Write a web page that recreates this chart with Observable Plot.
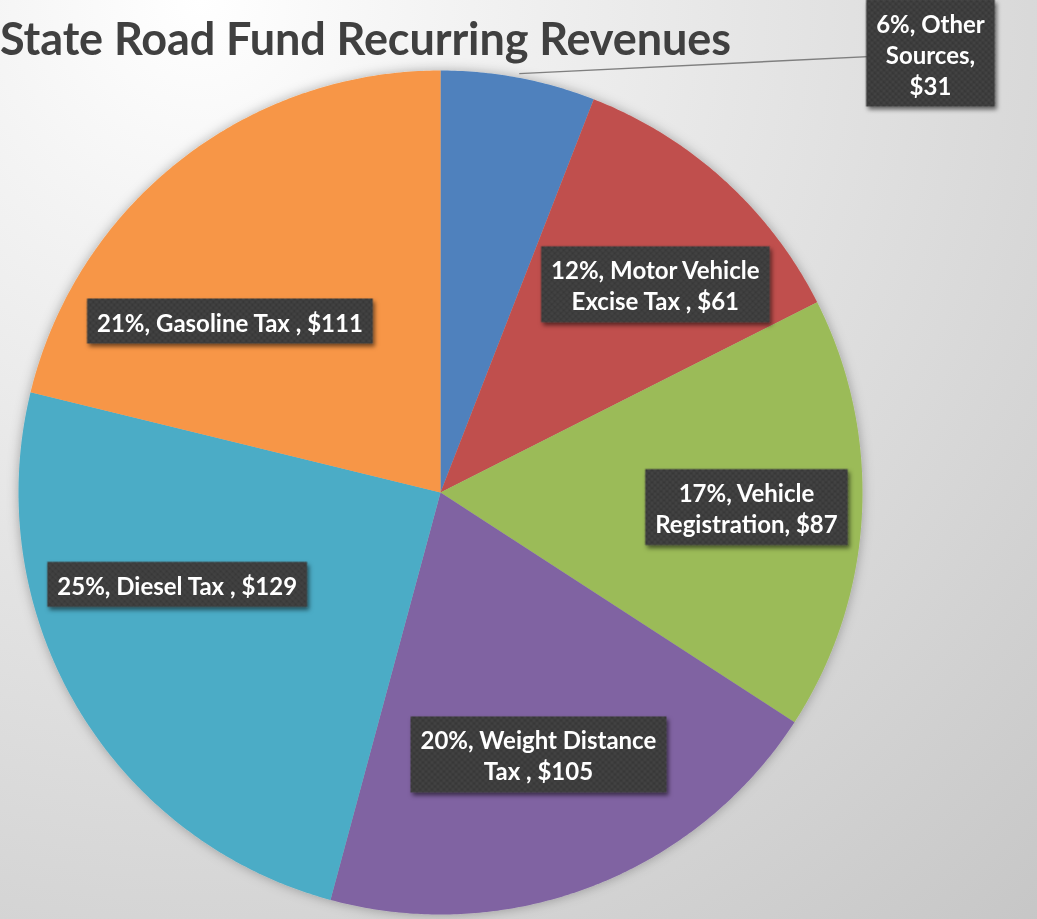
<!DOCTYPE html>
<html><head><meta charset="utf-8">
<script src="https://cdn.jsdelivr.net/npm/d3@7"></script>
<script src="https://cdn.jsdelivr.net/npm/@observablehq/plot@0.6"></script>
<style>
html,body{margin:0;padding:0;}
#wrap{position:relative;width:1037px;height:919px;overflow:hidden;background:radial-gradient(circle at 200px 0px,#ffffff 0px,#f3f3f3 250px,#c4c4c4 1300px);}
#title{position:absolute;left:0px;top:16px;font-family:Lato,sans-serif;font-weight:bold;font-size:45px;color:#404040;line-height:1;white-space:nowrap;letter-spacing:-0.1px;}
#chart{position:absolute;left:0;top:0;}
</style></head><body>
<div id="wrap"><div id="chart"></div><div id="title">State Road Fund Recurring Revenues</div></div>
<script>
// ---- data ----
const categories = ["Other Sources", "Motor Vehicle Excise Tax", "Vehicle Registration", "Weight Distance Tax", "Diesel Tax", "Gasoline Tax"];
const values = [31, 61, 87, 105, 129, 111];
const colors = ["#4F81BD", "#C0504D", "#9BBB59", "#8064A2", "#4BACC6", "#F79646"];
const labelNames = ["Other\nSources,\n", "Motor Vehicle\nExcise Tax , ", "Vehicle\nRegistration, ", "Weight Distance\nTax , ", "Diesel Tax , ", "Gasoline Tax , "];
// label anchor layout (pie coordinates, unit radius)
const labelAnchors = [[1.161, 1.040], [0.509, 0.492], [0.725, -0.036], [0.232, -0.622], [-0.624, -0.219], [-0.499, 0.405]];

const total = d3.sum(values);
const arcs = d3.pie().sort(null).value(d => d)(values);
const slicePts = [];
arcs.forEach((a, i) => {
  const n = Math.max(2, Math.ceil((a.endAngle - a.startAngle) / (Math.PI / 360)));
  slicePts.push({category: categories[i], x: 0, y: 0});
  for (let k = 0; k <= n; k++) {
    const t = a.startAngle + (a.endAngle - a.startAngle) * k / n;
    slicePts.push({category: categories[i], x: Math.sin(t), y: Math.cos(t)});
  }
});
const labels = categories.map((c, i) => ({
  category: c,
  x: labelAnchors[i][0], y: labelAnchors[i][1],
  text: `${Math.round(values[i] / total * 100)}%, ${labelNames[i]}$${values[i]}`
}));
const mid0 = (arcs[0].startAngle + arcs[0].endAngle) / 2;
const leader = [{x1: Math.sin(mid0) * 1.01, y1: Math.cos(mid0) * 1.01, x2: labelAnchors[0][0], y2: labelAnchors[0][1]}];

const W = 1037, H = 919, R = 422, CX = 440, CY = 492;
const plot = Plot.plot({
  width: W, height: H,
  marginLeft: CX - R, marginRight: W - CX - R, marginTop: CY - R, marginBottom: H - CY - R,
  x: {domain: [-1, 1], axis: null},
  y: {domain: [-1, 1], axis: null},
  color: {domain: categories, range: colors},
  style: {background: "transparent", fontFamily: "Lato, sans-serif", overflow: "visible"},
  marks: [
    Plot.line(slicePts, {x: "x", y: "y", z: "category", fill: "category", stroke: "none", curve: "linear-closed"}),
    Plot.link(leader, {x1: "x1", y1: "y1", x2: "x2", y2: "y2", stroke: "#7f7f7f", strokeWidth: 1.4}),
    Plot.text(labels, {x: "x", y: "y", text: "text", fill: "#ffffff", fontSize: 24, fontWeight: "bold", lineHeight: 31 / 24, textAnchor: "middle"})
  ]
});
document.getElementById("chart").append(plot);

// decorations: textured label boxes and shadows
const svg = plot;
const ns = "http://www.w3.org/2000/svg";
const defs = document.createElementNS(ns, "defs");
defs.innerHTML = `<pattern id="tex" width="6" height="6" patternUnits="userSpaceOnUse"><rect width="6" height="6" fill="#393939"/><rect width="3" height="3" fill="#434343"/><rect x="3" y="3" width="3" height="3" fill="#434343"/></pattern>
<filter id="boxShadow" x="-20%" y="-30%" width="150%" height="180%"><feDropShadow dx="2" dy="3" stdDeviation="2" flood-color="#000" flood-opacity="0.55"/></filter>
<filter id="pieShadow" x="-10%" y="-10%" width="120%" height="120%"><feDropShadow dx="0" dy="0" stdDeviation="6" flood-color="#000" flood-opacity="0.3"/></filter>`;
svg.insertBefore(defs, svg.firstChild);
const lineG = svg.querySelector('g[aria-label="line"]');
if (lineG) lineG.setAttribute("filter", "url(#pieShadow)");
const textG = svg.querySelector('g[aria-label="text"]');
const boxG = document.createElementNS(ns, "g");
boxG.setAttribute("filter", "url(#boxShadow)");
if (textG.getAttribute("transform")) boxG.setAttribute("transform", textG.getAttribute("transform"));
textG.querySelectorAll("text").forEach(t => {
  const b = t.getBBox();
  const r = document.createElementNS(ns, "rect");
  r.setAttribute("x", b.x - 10);
  r.setAttribute("y", b.y - 9);
  r.setAttribute("width", b.width + 20);
  r.setAttribute("height", b.height + 16);
  r.setAttribute("fill", "url(#tex)");
  if (t.getAttribute("transform")) r.setAttribute("transform", t.getAttribute("transform"));
  boxG.appendChild(r);
});
textG.parentNode.insertBefore(boxG, textG);
</script>
</body></html>
